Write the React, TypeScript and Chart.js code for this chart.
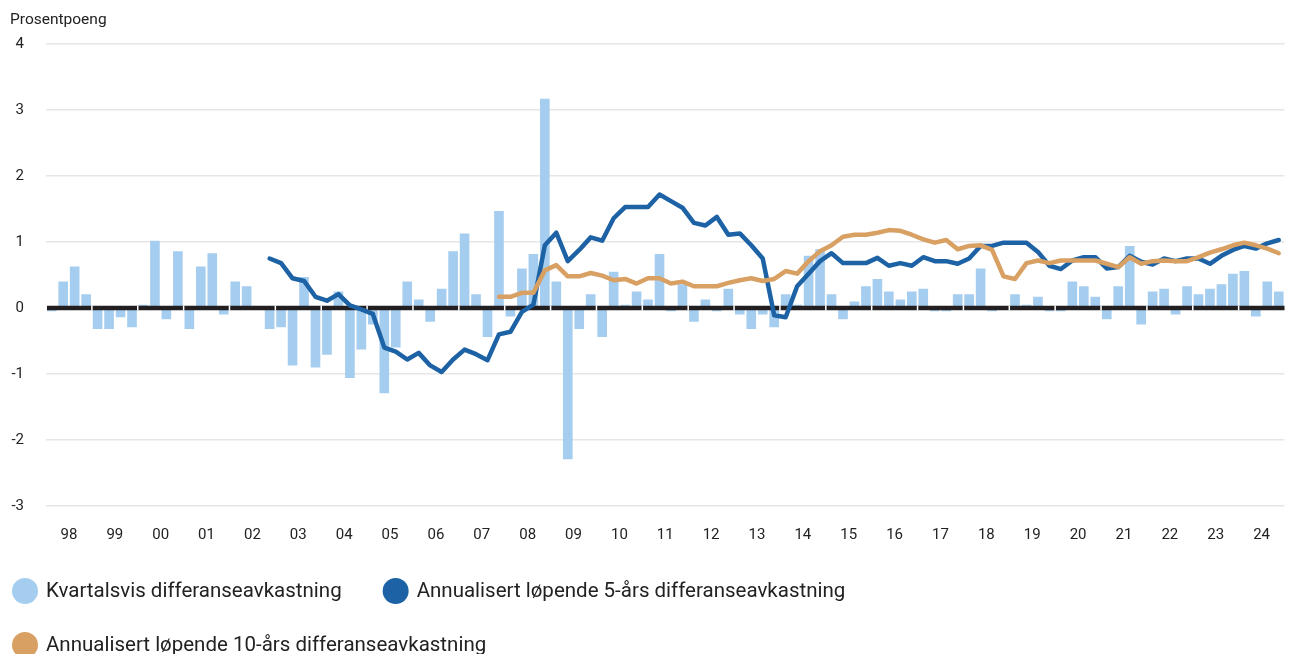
import React, { useEffect, useRef } from "react";
import { Chart, registerables } from "chart.js";

Chart.register(...registerables);

const yAxisTitle = "Prosentpoeng";

const yearLabels = [
  "98", "99", "00", "01", "02", "03", "04", "05", "06", "07", "08", "09", "10",
  "11", "12", "13", "14", "15", "16", "17", "18", "19", "20", "21", "22", "23", "24",
];

const yTickValues = [-3, -2, -1, 0, 1, 2, 3, 4];

const seriesLabels = [
  "Kvartalsvis differanseavkastning",
  "Annualisert løpende 5-års differanseavkastning",
  "Annualisert løpende 10-års differanseavkastning",
];

// Quarterly excess return, 1998 Q1 – 2024 Q4
const quarterlyExcess: (number | null)[] = [
  -0.05, 0.4, 0.63, 0.21,
  -0.32, -0.32, -0.14, -0.29,
  0.05, 1.02, -0.17, 0.86,
  -0.32, 0.63, 0.83, -0.1,
  0.4, 0.33, null, -0.32,
  -0.29, -0.87, 0.47, -0.9,
  -0.71, 0.25, -1.06, -0.63,
  -0.25, -1.29, -0.6, 0.4,
  0.13, -0.21, 0.29, 0.86,
  1.13, 0.21, -0.44, 1.47,
  -0.13, 0.6, 0.82, 3.17,
  0.4, -2.29, -0.32, 0.21,
  -0.44, 0.55, 0.05, 0.25,
  0.13, 0.82, -0.05, 0.36,
  -0.21, 0.13, -0.05, 0.29,
  -0.1, -0.32, -0.1, -0.29,
  0.21, 0.05, 0.79, 0.89,
  0.21, -0.17, 0.1, 0.33,
  0.44, 0.25, 0.13, 0.25,
  0.29, -0.05, -0.05, 0.21,
  0.21, 0.6, -0.05, null,
  0.21, 0.05, 0.17, -0.05,
  -0.05, 0.4, 0.33, 0.17,
  -0.17, 0.33, 0.94, -0.25,
  0.25, 0.29, -0.1, 0.33,
  0.21, 0.29, 0.36, 0.52,
  0.56, -0.13, 0.4, 0.25,
];

// Annualised rolling 5-year excess return
const rolling5y: (number | null)[] = [
  null, null, null, null,
  null, null, null, null,
  null, null, null, null,
  null, null, null, null,
  null, null, null, 0.75,
  0.68, 0.45, 0.41, 0.17,
  0.11, 0.21, 0.04, -0.02,
  -0.09, -0.6, -0.66, -0.78,
  -0.68, -0.87, -0.97, -0.78,
  -0.63, -0.7, -0.79, -0.4,
  -0.36, -0.06, 0.05, 0.95,
  1.14, 0.71, 0.88, 1.07,
  1.02, 1.36, 1.53, 1.53,
  1.53, 1.72, 1.62, 1.52,
  1.29, 1.25, 1.38, 1.11,
  1.13, 0.95, 0.75, -0.11,
  -0.14, 0.33, 0.52, 0.71,
  0.83, 0.68, 0.68, 0.68,
  0.76, 0.64, 0.68, 0.64,
  0.77, 0.71, 0.71, 0.67,
  0.75, 0.94, 0.94, 0.99,
  0.99, 0.99, 0.85, 0.64,
  0.59, 0.72, 0.77, 0.77,
  0.6, 0.62, 0.79, 0.7,
  0.66, 0.75, 0.71, 0.75,
  0.75, 0.67, 0.79, 0.88,
  0.94, 0.9, 0.98, 1.03,
];

// Annualised rolling 10-year excess return
const rolling10y: (number | null)[] = [
  null, null, null, null,
  null, null, null, null,
  null, null, null, null,
  null, null, null, null,
  null, null, null, null,
  null, null, null, null,
  null, null, null, null,
  null, null, null, null,
  null, null, null, null,
  null, null, null, 0.17,
  0.17, 0.23, 0.23, 0.57,
  0.65, 0.48, 0.48, 0.53,
  0.49, 0.42, 0.44, 0.37,
  0.45, 0.45, 0.37, 0.4,
  0.33, 0.33, 0.33, 0.38,
  0.42, 0.45, 0.41, 0.44,
  0.56, 0.52, 0.71, 0.86,
  0.95, 1.08, 1.11, 1.11,
  1.14, 1.18, 1.17, 1.11,
  1.04, 0.99, 1.03, 0.89,
  0.94, 0.95, 0.88, 0.48,
  0.44, 0.68, 0.72, 0.68,
  0.72, 0.72, 0.72, 0.72,
  0.67, 0.62, 0.77, 0.67,
  0.71, 0.72, 0.71, 0.71,
  0.77, 0.84, 0.89, 0.95,
  0.99, 0.95, 0.9, 0.83,
];

const COLOR_BAR = "#a5cdef";
const COLOR_5Y = "#1c62a5";
const COLOR_10Y = "#d9a063";
const FONT_FAMILY = "Roboto, 'Noto Sans', sans-serif";

const toPoints = (arr: (number | null)[]) =>
  arr.map((v, i) => ({ x: i + 0.5, y: v }));

const zeroLinePlugin = {
  id: "zeroLine",
  afterDatasetDraw(chart: any, args: any) {
    if (args.meta.type !== "bar") return;
    const { ctx, chartArea, scales } = chart;
    const y = scales.y.getPixelForValue(0);
    ctx.save();
    ctx.fillStyle = "#231f20";
    ctx.fillRect(chartArea.left + 1, y - 2.25, chartArea.right - chartArea.left - 1, 4.5);
    ctx.fillStyle = "#ffffff";
    for (let k = 1; k < yearLabels.length; k++) {
      const x = scales.x.getPixelForValue(k * 4);
      ctx.fillRect(x - 0.75, y - 2.5, 1.5, 5);
    }
    ctx.restore();
  },
};

const titleLegendPlugin = {
  id: "titleLegend",
  afterDraw(chart: any) {
    const { ctx, chartArea } = chart;
    ctx.save();
    ctx.fillStyle = "#222222";
    ctx.textBaseline = "middle";
    ctx.textAlign = "left";
    ctx.font = `15.5px ${FONT_FAMILY}`;
    ctx.fillText(yAxisTitle, 10, 20);

    ctx.font = `20.5px ${FONT_FAMILY}`;
    let x = 12;
    let y = chartArea.bottom + 85;
    chart.data.datasets.forEach((ds: any) => {
      const color = ds.type === "line" ? ds.borderColor : ds.backgroundColor;
      const w = 34 + ctx.measureText(ds.label).width;
      if (x + w > chart.width) {
        x = 12;
        y += 54;
      }
      ctx.beginPath();
      ctx.fillStyle = color;
      ctx.arc(x + 13, y, 13, 0, Math.PI * 2);
      ctx.fill();
      ctx.fillStyle = "#222222";
      ctx.fillText(ds.label, x + 34, y + 1);
      x += w + 41;
    });
    ctx.restore();
  },
};

export default function App() {
  const canvasRef = useRef<HTMLCanvasElement | null>(null);

  useEffect(() => {
    if (!canvasRef.current) return;
    const chart = new Chart(canvasRef.current, {
      type: "bar",
      data: {
        datasets: [
          {
            type: "bar",
            label: seriesLabels[0],
            data: toPoints(quarterlyExcess),
            backgroundColor: COLOR_BAR,
            borderWidth: 0,
            barPercentage: 0.84,
            categoryPercentage: 1,
            order: 3,
          },
          {
            type: "line",
            label: seriesLabels[1],
            data: toPoints(rolling5y),
            borderColor: COLOR_5Y,
            backgroundColor: COLOR_5Y,
            borderWidth: 4.5,
            pointRadius: 0,
            tension: 0,
            borderJoinStyle: "round",
            borderCapStyle: "round",
            spanGaps: false,
            order: 2,
          },
          {
            type: "line",
            label: seriesLabels[2],
            data: toPoints(rolling10y),
            borderColor: COLOR_10Y,
            backgroundColor: COLOR_10Y,
            borderWidth: 4.5,
            pointRadius: 0,
            tension: 0,
            borderJoinStyle: "round",
            borderCapStyle: "round",
            spanGaps: false,
            order: 1,
          },
        ] as any,
      },
      options: {
        responsive: false,
        animation: false,
        devicePixelRatio: 1,
        layout: { padding: { top: 44, left: 0, right: 0, bottom: 144 } },
        plugins: {
          legend: { display: false },
          tooltip: { enabled: false },
        },
        scales: {
          x: {
            type: "linear",
            min: 0,
            max: quarterlyExcess.length,
            offset: false,
            grid: { display: false, drawTicks: false },
            border: { display: false },
            afterBuildTicks: (scale: any) => {
              scale.ticks = yearLabels.map((_, k) => ({ value: k * 4 + 2 }));
            },
            afterFit: (scale: any) => {
              scale.height = 40;
            },
            ticks: {
              autoSkip: false,
              maxRotation: 0,
              padding: 20,
              color: "#222222",
              font: { family: FONT_FAMILY, size: 15 },
              callback: (v: any) => yearLabels[Math.round((Number(v) - 2) / 4)] ?? "",
            },
          },
          y: {
            type: "linear",
            min: yTickValues[0],
            max: yTickValues[yTickValues.length - 1],
            afterBuildTicks: (scale: any) => {
              scale.ticks = yTickValues.map((v) => ({ value: v }));
            },
            afterFit: (scale: any) => {
              scale.width = 46;
            },
            grid: {
              color: (c: any) => (c.tick && c.tick.value === 0 ? "rgba(0,0,0,0)" : "#e6e6e6"),
              lineWidth: 1.5,
              drawTicks: false,
            },
            border: { display: false },
            ticks: {
              padding: 22,
              color: "#222222",
              font: { family: FONT_FAMILY, size: 15 },
              callback: (v: any) => String(v),
            },
          },
        },
      },
      plugins: [zeroLinePlugin, titleLegendPlugin],
    } as any);
    return () => chart.destroy();
  }, []);

  return (
    <div
      style={{
        position: "absolute",
        left: 0,
        top: 0,
        width: 1290,
        height: 654,
        overflow: "hidden",
        background: "#ffffff",
      }}
    >
      <canvas ref={canvasRef} width={1290} height={690} style={{ display: "block" }} />
    </div>
  );
}
